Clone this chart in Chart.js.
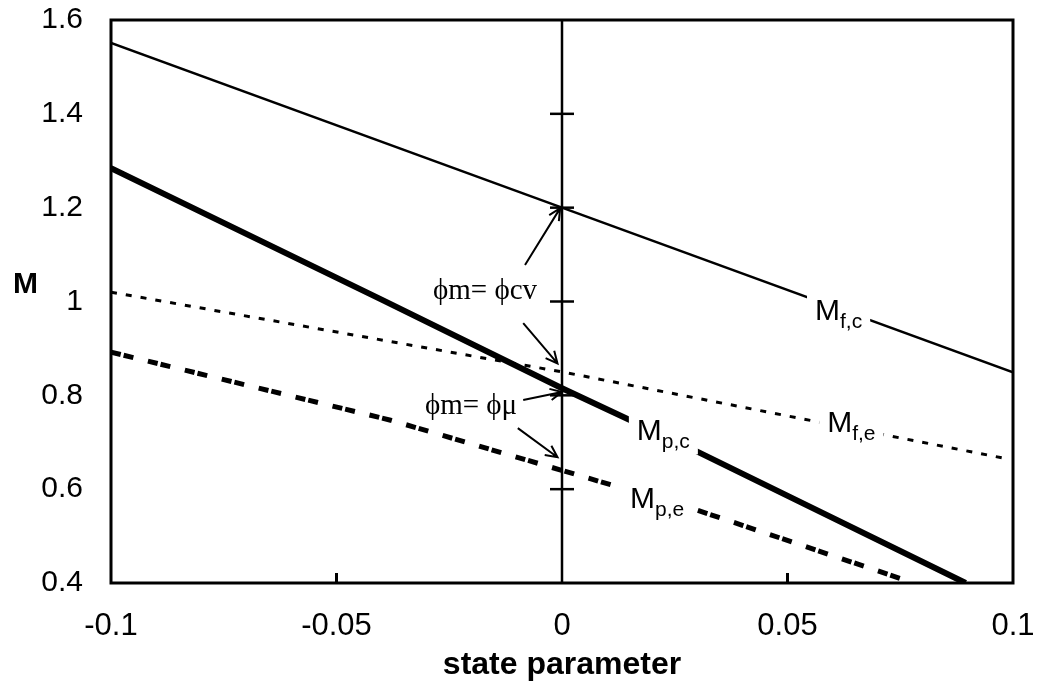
<!DOCTYPE html>
<html>
<head>
<meta charset="utf-8">
<script src="https://cdn.jsdelivr.net/npm/chart.js@4.4.1/dist/chart.umd.min.js"></script>
<style>
  body { margin: 0; background: #fff; }
</style>
</head>
<body>
<canvas id="graficoM" width="1038" height="696"></canvas>
<script>
// tick labels
const xTicks = [-0.1, -0.05, 0, 0.05, 0.1]
const yTicks = [0.4, 0.6, 0.8, 1.0, 1.2, 1.4, 1.6]

// curves (state parameter -> M)
const stateMfc = [-0.1, 0, 0.1]
const valuesMfc = [1.551, 1.2, 0.849]
const stateMpc = [-0.1, -0.04, 0, 0.03, 0.0895]
const valuesMpc = [1.284, 1.004, 0.815, 0.68, 0.4]
const stateMfe = [-0.1, 0, 0.098]
const valuesMfe = [1.02, 0.85, 0.666]
const stateMpe = [-0.1, -0.038, 0, 0.03, 0.04, 0.078]
const valuesMpe = [0.892, 0.747, 0.64, 0.555, 0.523, 0.4]

// vertical line at state parameter = 0, with cross ticks
const zeroLineM = [0.4, 0.6, 0.8, 1.0, 1.2, 1.4, 1.6]
const zeroLineTick = [0, 12, 12, 12, 12, 12, 0]

// curve labels (left / baseline of the "M", in data units)
const curveNames = ['f,c', 'f,e', 'p,c', 'p,e']
const curveLabelX = [0.0561, 0.0588, 0.0166, 0.0151]
const curveLabelY = [0.960, 0.722, 0.704, 0.559]

// notes with arrows
const noteTexts = ['\u03D5m= \u03D5cv', '\u03D5m= \u03D5\u03BC']
const noteX = [-0.0286, -0.0304]
const noteY = [1.022, 0.777]
const arrowFromX = [-0.0082, -0.0086, -0.0086, -0.0098]
const arrowFromY = [1.078, 0.954, 0.790, 0.730]
const arrowToX = [-0.0004, -0.001, 0, -0.001]
const arrowToY = [1.199, 0.868, 0.807, 0.668]

function toPoints(xs, ys){
    return xs.map((x, i) => ({x: x, y: ys[i]}))
}

function fmt(v){
    return String(Number(v.toFixed(2)))
}

const sansFont = '"Liberation Sans", Arial, sans-serif'
const serifFont = '"Liberation Serif", "Times New Roman", serif'

const extras = {
    id: 'extras',
    afterDatasetsDraw(chart){
        const ctx = chart.ctx
        const xs = chart.scales.x
        const ys = chart.scales.y
        const area = chart.chartArea
        ctx.save()

        // curve labels, with a white gap in the line behind them
        curveNames.forEach((sub, i) => {
            const px = xs.getPixelForValue(curveLabelX[i])
            const py = ys.getPixelForValue(curveLabelY[i])
            ctx.font = '30px ' + sansFont
            const wM = ctx.measureText('M').width
            ctx.font = '21px ' + sansFont
            const wS = ctx.measureText(sub).width
            ctx.fillStyle = '#fff'
            ctx.fillRect(px - 8, py - 26, wM + wS + 16, 40)
            ctx.fillStyle = '#000'
            ctx.textAlign = 'left'
            ctx.textBaseline = 'alphabetic'
            ctx.font = '30px ' + sansFont
            ctx.fillText('M', px, py)
            ctx.font = '21px ' + sansFont
            ctx.fillText(sub, px + wM, py + 8)
        })

        // notes
        ctx.font = '29px ' + serifFont
        ctx.textBaseline = 'middle'
        noteTexts.forEach((t, i) => {
            ctx.fillText(t, xs.getPixelForValue(noteX[i]), ys.getPixelForValue(noteY[i]))
        })

        // arrows
        ctx.strokeStyle = '#000'
        ctx.lineWidth = 2
        arrowFromX.forEach((fx, i) => {
            const x1 = xs.getPixelForValue(fx), y1 = ys.getPixelForValue(arrowFromY[i])
            const x2 = xs.getPixelForValue(arrowToX[i]), y2 = ys.getPixelForValue(arrowToY[i])
            const a = Math.atan2(y2 - y1, x2 - x1)
            ctx.beginPath()
            ctx.moveTo(x1, y1)
            ctx.lineTo(x2, y2)
            ctx.moveTo(x2 - 13 * Math.cos(a - 0.45), y2 - 13 * Math.sin(a - 0.45))
            ctx.lineTo(x2, y2)
            ctx.lineTo(x2 - 13 * Math.cos(a + 0.45), y2 - 13 * Math.sin(a + 0.45))
            ctx.stroke()
        })

        // frame
        ctx.lineWidth = 3
        ctx.strokeRect(area.left, area.top, area.right - area.left, area.bottom - area.top)

        // inward ticks on the bottom axis
        ctx.beginPath()
        ;[-0.05, 0.05].forEach(v => {
            const px = xs.getPixelForValue(v)
            ctx.moveTo(px, area.bottom)
            ctx.lineTo(px, area.bottom - 10)
        })
        ctx.stroke()

        // y axis title, horizontal
        ctx.font = 'bold 30px ' + sansFont
        ctx.textAlign = 'left'
        ctx.textBaseline = 'middle'
        ctx.fillText('M', 13, ys.getPixelForValue(1.035))
        ctx.restore()
    }
}

const graphM = document.querySelector('#graficoM')

const chartM = new Chart(graphM, {
    type: 'line',
    data: {
      datasets: [
        {
          label: 'zero',
          data: toPoints(zeroLineM.map(() => 0), zeroLineM),
          borderColor: '#000',
          borderWidth: 2.5,
          pointStyle: 'line',
          pointRadius: zeroLineTick,
          pointBorderWidth: 2.5,
          pointBorderColor: '#000'
        },
        {
          label: 'Mf,c',
          data: toPoints(stateMfc, valuesMfc),
          borderColor: '#000',
          borderWidth: 2.5,
          pointRadius: 0
        },
        {
          label: 'Mp,c',
          data: toPoints(stateMpc, valuesMpc),
          borderColor: '#000',
          borderWidth: 6,
          pointRadius: 0
        },
        {
          label: 'Mf,e',
          data: toPoints(stateMfe, valuesMfe),
          borderColor: '#000',
          borderWidth: 3,
          borderDash: [6, 9],
          pointRadius: 0
        },
        {
          label: 'Mp,e',
          data: toPoints(stateMpe, valuesMpe),
          borderColor: '#000',
          borderWidth: 5,
          borderDash: [10, 3, 10, 15],
          pointRadius: 0
        }
      ]
    },
    options: {
      responsive: false,
      devicePixelRatio: 1,
      animation: false,
      events: [],
      layout: { padding: { top: 20, right: 25, left: 0, bottom: 0 } },
      plugins: { legend: { display: false }, tooltip: { enabled: false } },
      scales: {
        x: {
          type: 'linear',
          min: -0.1,
          max: 0.1,
          afterFit: s => { s.height = 113; s.paddingLeft = 0; s.paddingRight = 0 },
          afterBuildTicks: s => { s.ticks = xTicks.map(v => ({ value: v })) },
          grid: { display: false, drawTicks: false },
          border: { display: false },
          ticks: {
            color: '#000',
            font: { family: sansFont, size: 31 },
            padding: 25,
            maxRotation: 0,
            autoSkip: false,
            callback: v => fmt(v)
          },
          title: {
            display: true,
            text: 'state parameter',
            color: '#000',
            font: { family: sansFont, size: 32, weight: 'bold' },
            padding: { top: 0, bottom: 12 }
          }
        },
        y: {
          type: 'linear',
          min: 0.4,
          max: 1.6,
          afterFit: s => { s.width = 111; s.paddingTop = 0; s.paddingBottom = 0 },
          afterBuildTicks: s => { s.ticks = yTicks.map(v => ({ value: v })) },
          grid: { display: false, drawTicks: false },
          border: { display: false },
          ticks: {
            color: '#000',
            font: { family: sansFont, size: 30 },
            padding: 28,
            autoSkip: false,
            callback: v => fmt(v)
          }
        }
      }
    },
    plugins: [extras]
  });
</script>
</body>
</html>
